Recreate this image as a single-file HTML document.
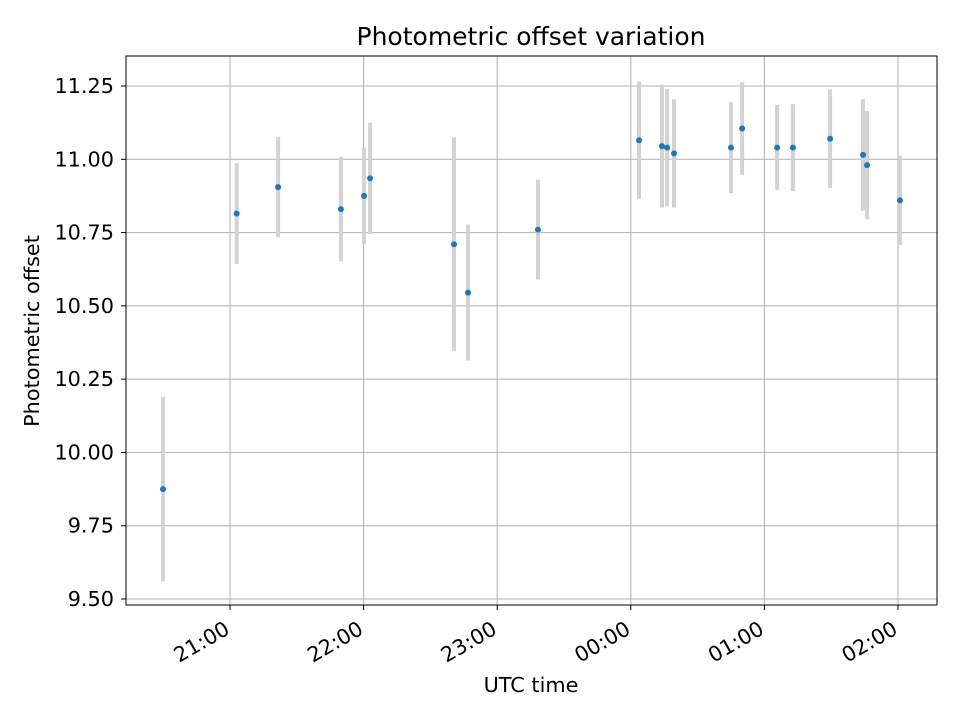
<!DOCTYPE html>
<html><head><meta charset="utf-8"><style>body{margin:0;background:#fff}svg{display:block;font-family:"DejaVu Sans","Liberation Sans",sans-serif}</style></head>
<body>
<svg id="chart" width="960" height="720">
<rect x="0" y="0" width="960" height="720" fill="#fff"/>
<g id="grid"></g><g id="errs"></g><g id="pts"></g><g id="axes"></g>
<text x="531" y="45" text-anchor="middle" font-size="25">Photometric offset variation</text>
<text x="531" y="692" text-anchor="middle" font-size="20.8">UTC time</text>
<text transform="translate(39,331) rotate(-90)" text-anchor="middle" font-size="20.8">Photometric offset</text>
</svg>
<script>
// minutes after 20:00 UTC
const times=[29.9,63,81.6,109.8,120.2,122.9,160.6,166.9,198.3,243.7,254,256.3,259.4,285,290,305.7,312.8,329.5,344.3,346.1,360.9];
const values=[9.875,10.815,10.905,10.83,10.875,10.935,10.71,10.545,10.76,11.065,11.045,11.04,11.02,11.04,11.105,11.04,11.04,11.07,11.015,10.98,10.86];
const errors=[0.315,0.172,0.172,0.178,0.165,0.19,0.365,0.232,0.17,0.2,0.21,0.2,0.185,0.155,0.158,0.145,0.148,0.168,0.19,0.185,0.153];
const yTicks=[9.5,9.75,10,10.25,10.5,10.75,11,11.25];
const yTickLabels=["9.50","9.75","10.00","10.25","10.50","10.75","11.00","11.25"];
const xTicks=[60,120,180,240,300,360];
const xTickLabels=["21:00","22:00","23:00","00:00","01:00","02:00"];
const L=126,R=937,T=56,B=605;
const xs=m=>230+(m-60)*133.6/60;
const ys=v=>599-(v-9.5)*293.14;
const NS="http://www.w3.org/2000/svg";
function mk(p,tag,a){const e=document.createElementNS(NS,tag);for(const k in a)e.setAttribute(k,a[k]);p.appendChild(e);return e;}
const grid=document.getElementById('grid'),axes=document.getElementById('axes'),errs=document.getElementById('errs'),pts=document.getElementById('pts');
yTicks.forEach((v,i)=>{const y=ys(v);
 const g=mk(grid,'line',{x1:L,x2:R,y1:y,y2:y,stroke:'#b0b0b0','stroke-width':1});
 
 mk(axes,'line',{x1:L-5,x2:L,y1:y,y2:y,stroke:'#000'});
 const t=mk(axes,'text',{x:L-12,y:y+7,'text-anchor':'end','font-size':20.8});t.textContent=yTickLabels[i];
 });
xTicks.forEach((m,i)=>{const x=xs(m);
 const g=mk(grid,'line',{x1:x,x2:x,y1:T,y2:B,stroke:'#b0b0b0','stroke-width':1});
 
 mk(axes,'line',{x1:x,x2:x,y1:B,y2:B+5,stroke:'#000'});
 const t=mk(axes,'text',{transform:`translate(${x+1},${B+28}) rotate(-30)`,'text-anchor':'end','font-size':20.8});t.textContent=xTickLabels[i];
 });
const fr=mk(axes,'rect',{x:L,y:T,width:R-L,height:B-T,fill:'none',stroke:'#000','stroke-width':1});

times.forEach((m,i)=>{const x=xs(m);
 const e=mk(errs,'line',{x1:x,x2:x,y1:ys(values[i]-errors[i]),y2:ys(values[i]+errors[i]),stroke:'#d3d3d3','stroke-width':4});
 
 const c=mk(pts,'circle',{cx:x,cy:ys(values[i]),r:3,fill:'#1f77b4'});
 });
</script>
</body></html>
